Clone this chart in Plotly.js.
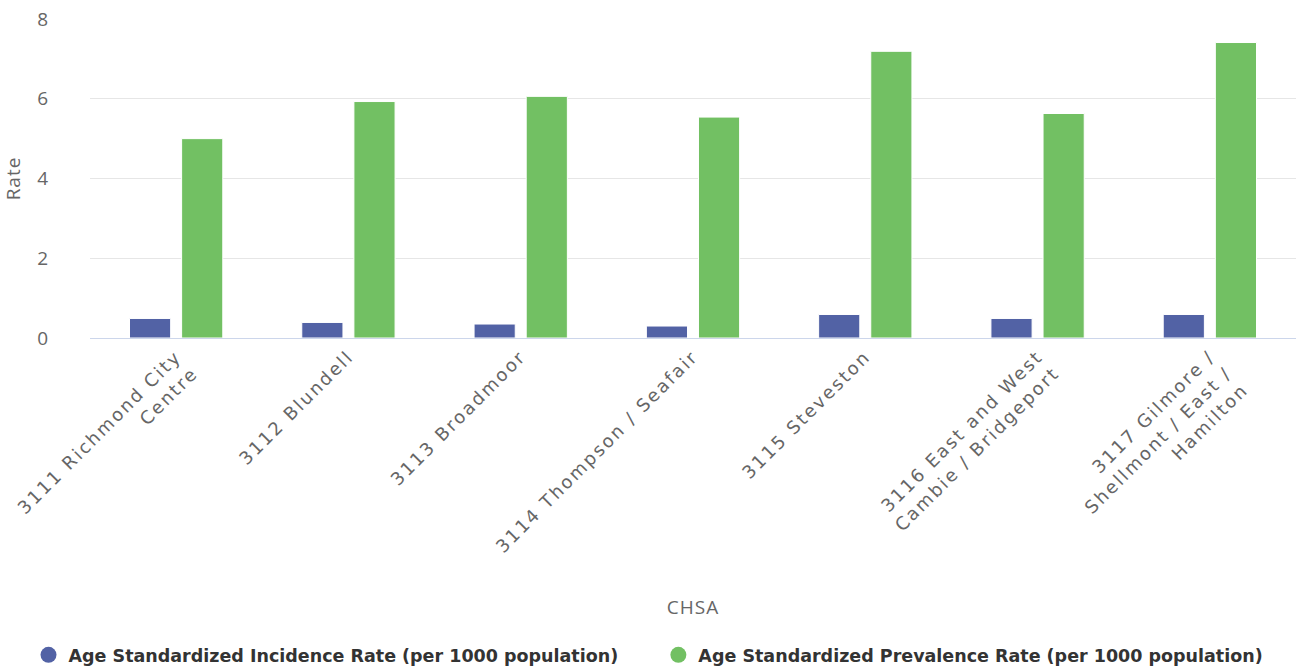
<!DOCTYPE html>
<html>
<head>
<meta charset="utf-8">
<script src="https://cdn.plot.ly/plotly-3.0.1.min.js"></script>
<style>
html,body{margin:0;padding:0;background:#fff;}
#chart{width:1296px;height:668px;}
#chart .xtick text{letter-spacing:2.2px;}
#chart .ytick text{letter-spacing:1px;}
#chart .g-xtitle text, #chart .g-ytitle text{letter-spacing:1px;}
</style>
</head>
<body>
<div id="chart"></div>
<script>
var categories = [
  "3111 Richmond City<br>Centre",
  "3112 Blundell",
  "3113 Broadmoor",
  "3114 Thompson / Seafair",
  "3115 Steveston",
  "3116 East and West<br>Cambie / Bridgeport",
  "3117 Gilmore /<br>Shellmont / East /<br>Hamilton"
];
var incidenceRate = [0.49, 0.39, 0.35, 0.30, 0.59, 0.49, 0.59];
var prevalenceRate = [5.0, 5.93, 6.06, 5.54, 7.19, 5.63, 7.41];
var seriesNames = [
  "Age Standardized Incidence Rate (per 1000 population)",
  "Age Standardized Prevalence Rate (per 1000 population)"
];
var colors = ["#5262a5", "#72c063"];

var traces = [
  {type: "bar", x: categories, y: incidenceRate, name: seriesNames[0], showlegend: false,
   marker: {color: colors[0], line: {color: "#ffffff", width: 1}}},
  {type: "bar", x: categories, y: prevalenceRate, name: seriesNames[1], showlegend: false,
   marker: {color: colors[1], line: {color: "#ffffff", width: 1}}},
  {type: "scatter", mode: "markers", x: [null], y: [null], name: seriesNames[0],
   marker: {color: colors[0], size: 16, symbol: "circle"}, legend: "legend"},
  {type: "scatter", mode: "markers", x: [null], y: [null], name: seriesNames[1],
   marker: {color: colors[1], size: 16, symbol: "circle"}, legend: "legend2"}
];

function legendFont() {
  return {size: 17.5, color: "#333333", family: "DejaVu Sans, sans-serif", weight: "bold"};
}

var layout = {
  width: 1296, height: 668,
  margin: {l: 90, r: 0, t: 19, b: 330},
  paper_bgcolor: "#ffffff", plot_bgcolor: "#ffffff",
  font: {family: "Open Sans, Noto Sans, sans-serif", color: "#666666"},
  barmode: "group", bargap: 0.395, bargroupgap: 0.21,
  xaxis: {
    type: "category",
    tickangle: -45,
    tickfont: {size: 18, color: "#666666", family: "DejaVu Sans, sans-serif"},
    showgrid: false,
    showline: true, linecolor: "#ccd6eb", linewidth: 1,
    ticks: "",
    title: {text: "CHSA", font: {size: 19, color: "#666666"}, standoff: 80},
    automargin: false
  },
  yaxis: {
    range: [0, 8], tickvals: [0, 2, 4, 6, 8],
    tickfont: {size: 19, color: "#666666"},
    gridcolor: "#e6e6e6", gridwidth: 1,
    zeroline: false,
    ticks: "", ticklen: 0,
    ticklabelstandoff: 40,
    title: {text: "Rate", font: {size: 19, color: "#666666"}, standoff: 14},
    automargin: false
  },
  showlegend: true,
  legend: {
    orientation: "h", xref: "container", yref: "container",
    x: 0.022, y: 0.0195, xanchor: "left", yanchor: "middle",
    font: legendFont(), itemsizing: "trace", bgcolor: "rgba(0,0,0,0)"
  },
  legend2: {
    orientation: "h", xref: "container", yref: "container",
    x: 0.508, y: 0.0195, xanchor: "left", yanchor: "middle",
    font: legendFont(), itemsizing: "trace", bgcolor: "rgba(0,0,0,0)"
  }
};

Plotly.newPlot("chart", traces, layout, {displayModeBar: false, staticPlot: true});
</script>
</body>
</html>
